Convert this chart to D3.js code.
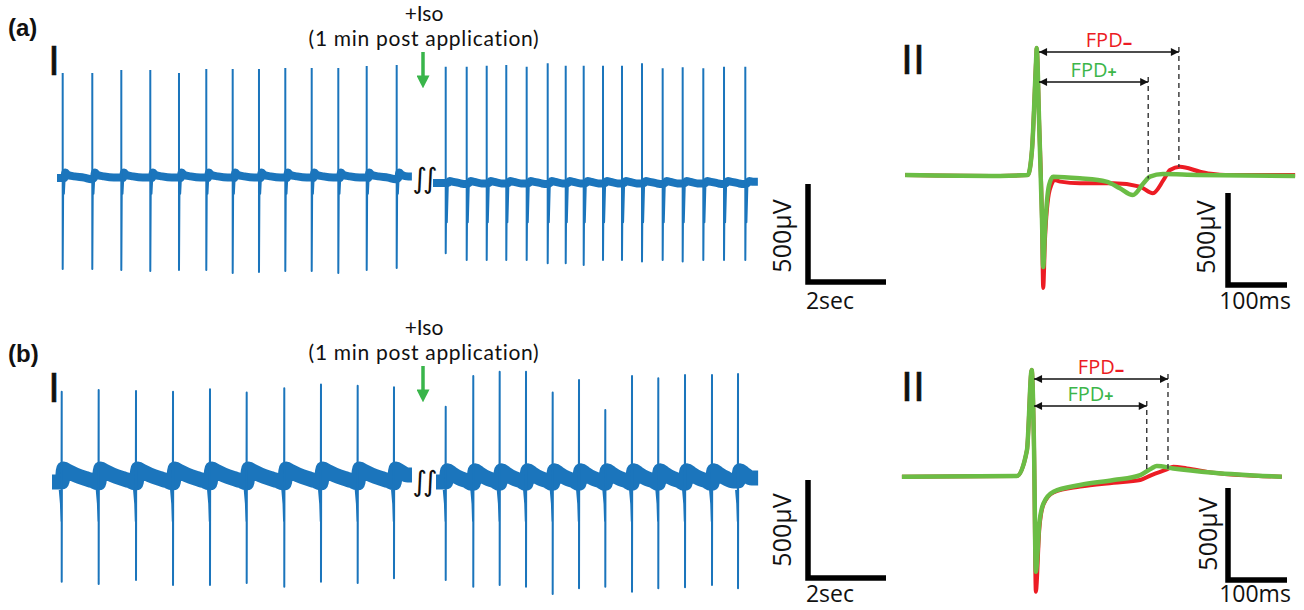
<!DOCTYPE html>
<meta charset="utf-8">
<style>
body { margin: 0; background: #fff; }
text { font-family: "Open Sans", sans-serif; fill: #111; }
</style>
<body>
<script src="https://d3js.org/d3.v7.min.js"></script>
<script>

// ---------- data ----------
// panel I: beat times (s) and spike peaks / troughs (µV) for each recording segment
var beatsA1 = [0.146, 0.905, 1.649, 2.392, 3.128, 3.828, 4.505, 5.179, 5.854, 6.531, 7.213, 7.941, 8.710];
var topsA1  = [536, 536, 551, 551, 536, 556, 556, 556, 561, 561, 561, 571, 577];
var botsA1  = [-464, -464, -469, -474, -469, -469, -485, -480, -474, -474, -485, -469, -459];
var beatsA2 = [0.326, 0.864, 1.377, 1.879, 2.402, 2.941, 3.403, 3.864, 4.359, 4.846, 5.359, 5.889, 6.402, 6.931, 7.462, 8.008];
var topsA2  = [593, 593, 598, 602, 593, 611, 598, 598, 598, 598, 611, 585, 590, 585, 593, 593];
var botsA2  = [-359, -393, -393, -393, -393, -410, -410, -418, -393, -393, -400, -393, -400, -393, -393, -393];
var beatsB1 = [0.249, 1.197, 2.154, 3.103, 4.051, 4.992, 5.956, 6.897, 7.838, 8.769];
var topsB1  = [461, 469, 464, 461, 473, 456, 478, 498, 491, 483];
var botsB1  = [-509, -520, -500, -526, -526, -515, -534, -509, -515, -491];
var beatsB2 = [0.249, 0.956, 1.633, 2.308, 2.992, 3.667, 4.341, 5.026, 5.700, 6.385, 7.077, 7.744];
var topsB2  = [384, 541, 563, 563, 456, 520, 367, 541, 529, 546, 546, 551];
var botsB2  = [-500, -534, -526, -534, -571, -542, -534, -560, -542, -537, -526, -542];
var durA = [9.10, 8.33];
var durB = [9.23, 8.26];

// baseline after each beat: [s after spike, µV]
var restA1 = [[0.04, 0], [0.07, 28], [0.13, 16], [0.3, 8], [0.55, 2], [0.74, -6]];
var restA2 = [[0.06, 0], [0.1, 10], [0.2, 6], [0.38, -2], [0.52, -5]];
var restB1 = [[0.02, 15], [0.05, 66], [0.15, 55], [0.35, 36], [0.6, 18], [0.8, 6], [0.92, -4]];
var restB2 = [[0.02, 15], [0.05, 58], [0.15, 44], [0.35, 20], [0.55, 5], [0.66, -6]];
// thin deflections next to each spike
var dipA1 = [[0.012, -30], [0.03, -80], [0.05, 0]];
var dipA2 = [[0.012, -60], [0.028, -200], [0.055, 0]];
var hookB = [[-0.05, -40], [-0.02, -110], [-0.006, -200]];
var backB = [[0.004, -40]];

// panel II: averaged field potential, [ms from spike, µV]
var greenA = [[-223, 0], [-62, -5], [-15, 0], [-8, 136], [-1, 625], [0, 690], [4, 299], [9, -245], [11, -500], [14, -299],
  [21, -54], [28, -9], [73, -18], [118, -36], [141, -72], [163, -109], [181, -45], [192, -9], [214, 5], [271, 0], [438, -5]];
var redA = [[-223, 0], [-62, -5], [-15, 0], [-8, 136], [-1, 625], [0, 690], [4, 299], [9, -245], [11, -614], [14, -353],
  [22, -82], [31, -27], [40, -36], [73, -45], [130, -45], [175, -63], [197, -99], [215, -27], [226, 27], [243, 45],
  [277, 18], [299, 5], [320, 0], [438, 0]];
var greenB = [[-220, 0], [-25, 4], [-8, 145], [0, 580], [4, 145], [7, -516], [13, -253], [20, -145], [37, -82], [82, -45],
  [139, -18], [184, 9], [203, 45], [212, 58], [240, 45], [308, 22], [424, 0]];
var redB = [[-220, 0], [-25, 4], [-8, 145], [0, 580], [4, 145], [7, -625], [13, -280], [20, -150], [37, -85], [82, -54],
  [139, -33], [184, -18], [203, 9], [229, 40], [240, 54], [263, 45], [308, 22], [424, 0]];
// field potential durations [FPD+, FPD-] in ms
var fpdA = [189, 241];
var fpdB = [195, 231];

// ---------- drawing ----------
var width = 1304, height = 610;
var blue = "#1b75bc", green = "#6bbd45", red = "#ec1c24", arrowGreen = "#39b54a", fpdGreen = "#3cb64a";

var svg = d3.select("body").append("svg")
    .attr("width", width)
    .attr("height", height);

var defs = svg.append("defs");
defs.append("marker").attr("id", "head")
    .attr("viewBox", "0 0 10 10").attr("refX", 10).attr("refY", 5)
    .attr("markerWidth", 11).attr("markerHeight", 8)
    .attr("markerUnits", "userSpaceOnUse").attr("orient", "auto-start-reverse")
  .append("path").attr("d", "M0,0L10,5L0,10Z").attr("fill", "#111");
defs.append("marker").attr("id", "ghead")
    .attr("viewBox", "0 0 10 10").attr("refX", 2).attr("refY", 5)
    .attr("markerWidth", 13).attr("markerHeight", 13)
    .attr("markerUnits", "userSpaceOnUse").attr("orient", "auto")
  .append("path").attr("d", "M0,0L10,5L0,10Z").attr("fill", arrowGreen);

var pxPerSec = 39, pxPerUV = 0.196;      // panel I: 2sec = 78px, 500µV = 98px
var pxPerMs = 0.59, pxPerUV2 = 0.184;    // panel II: 100ms = 59px, 500µV = 92px

function segment(x0, base, beats, tops, bots, dur, rest, pre, post, bandW) {
  var x = d3.scaleLinear().domain([0, 1]).range([x0, x0 + pxPerSec]);
  var y = d3.scaleLinear().domain([0, 1]).range([base, base - pxPerUV]);
  var line = d3.line().x(function(d) { return x(d[0]); }).y(function(d) { return y(d[1]); });

  var band = [[0, 0]];
  beats.forEach(function(t, i) {
    var next = i < beats.length - 1 ? beats[i + 1] : dur;
    band.push([t, band[band.length - 1][1]]);
    rest.forEach(function(r) { if (t + r[0] < next - 0.01) band.push([t + r[0], r[1]]); });
  });
  band.push([dur, band[band.length - 1][1]]);

  svg.append("path").attr("d", line.curve(d3.curveMonotoneX)(band))
      .attr("fill", "none").attr("stroke", blue)
      .attr("stroke-width", bandW).attr("stroke-linejoin", "round");
  line.curve(d3.curveLinear);

  svg.append("g").selectAll("path")
    .data(beats)
    .enter().append("path")
      .attr("d", function(t, i) {
        var pts = pre.map(function(p) { return [t + p[0], p[1]]; })
          .concat([[t, tops[i]], [t, bots[i]]])
          .concat(post.map(function(p) { return [t + p[0], p[1]]; }));
        return line(pts);
      })
      .attr("fill", "none").attr("stroke", blue).attr("stroke-width", 2)
      .attr("stroke-linejoin", "round");
  return x;
}

function scaleBar(cx, cy, lenX, lenY, labX, labY, sizeLab, sizeLabX, textX, textY) {
  svg.append("path")
      .attr("d", "M" + cx + "," + (cy - lenY) + "V" + cy + "H" + (cx + lenX))
      .attr("fill", "none").attr("stroke", "#000").attr("stroke-width", 5.5);
  svg.append("text").attr("transform", "translate(" + labX + "," + labY + ") rotate(-90)")
      .attr("text-anchor", "middle").attr("dy", "0.36em")
      .style("font-size", "25px").text(sizeLab);
  svg.append("text").attr("x", textX).attr("y", textY)
      .attr("text-anchor", "middle").style("font-size", "23px").text(sizeLabX);
}

function isoNote(y0) {
  svg.append("text").attr("x", 424).attr("y", y0).attr("text-anchor", "middle")
      .style("font-family", "Lato").style("font-size", "21px").text("+Iso");
  svg.append("text").attr("x", 424).attr("y", y0 + 25).attr("text-anchor", "middle")
      .style("font-family", "Lato").style("font-size", "21px").style("letter-spacing", "0.7px")
      .text("(1 min post application)");
  svg.append("line").attr("x1", 423).attr("x2", 423).attr("y1", y0 + 31).attr("y2", y0 + 57)
      .attr("stroke", arrowGreen).attr("stroke-width", 3.5).attr("marker-end", "url(#ghead)");
}

function breakMark(y0) {
  svg.append("text").attr("x", 423).attr("y", y0).attr("text-anchor", "middle").attr("dy", "0.35em")
      .style("font-family", "DejaVu Sans").style("font-size", "28px").style("letter-spacing", "-4px")
      .text("\u222B\u222B");
}

function panelII(spikeX, base, g, r, fpd, yMinus, yPlus) {
  var x = d3.scaleLinear().domain([0, 100]).range([spikeX, spikeX + 100 * pxPerMs]);
  var y = d3.scaleLinear().domain([0, 500]).range([base, base - 500 * pxPerUV2]);
  var line = d3.line().x(function(d) { return x(d[0]); }).y(function(d) { return y(d[1]); })
      .curve(d3.curveMonotoneX);
  svg.append("path").attr("d", line(r)).attr("fill", "none").attr("stroke", red)
      .attr("stroke-width", 4).attr("stroke-linejoin", "round");
  svg.append("path").attr("d", line(g)).attr("fill", "none").attr("stroke", green)
      .attr("stroke-width", 4.5).attr("stroke-linejoin", "round");

  function valueAt(data, t) {
    var i = d3.bisector(function(d) { return d[0]; }).left(data, t);
    var a = data[i - 1], b = data[i];
    return a[1] + (b[1] - a[1]) * (t - a[0]) / (b[0] - a[0]);
  }
  var items = [
    {t: fpd[1], yy: yMinus, data: r, col: red, sign: "\u2013", lab: "FPD"},
    {t: fpd[0], yy: yPlus, data: g, col: fpdGreen, sign: "+", lab: "FPD"}
  ];
  items.forEach(function(it) {
    svg.append("line").attr("x1", x(it.t)).attr("x2", x(it.t))
        .attr("y1", it.yy - 5).attr("y2", y(valueAt(it.data, it.t)))
        .attr("stroke", "#333").attr("stroke-width", 1.4).attr("stroke-dasharray", "5,4");
    svg.append("line").attr("x1", x(4)).attr("x2", x(it.t)).attr("y1", it.yy).attr("y2", it.yy)
        .attr("stroke", "#111").attr("stroke-width", 1.5)
        .attr("marker-start", "url(#head)").attr("marker-end", "url(#head)");
    var tx = svg.append("text").attr("x", (x(4) + x(it.t)) / 2).attr("y", it.yy - 5)
        .attr("text-anchor", "middle").style("font-size", "20px").style("fill", it.col);
    tx.append("tspan").text(it.lab);
    tx.append("tspan").attr("dy", it.sign === "+" ? 1 : 2)
        .style("font-size", it.sign === "+" ? "16px" : "19px").style("font-weight", "bold").text(it.sign);
  });
  return x;
}

// row labels
[["(a)", 36], ["(b)", 362]].forEach(function(d) {
  svg.append("text").attr("x", 8).attr("y", d[1])
      .style("font-family", "Liberation Sans").style("font-weight", "bold").style("font-size", "24px").text(d[0]);
});
[["I", 48, 75], ["I", 48, 402], ["II", 901, 74], ["II", 901, 401]].forEach(function(d) {
  svg.append("text").attr("x", d[1]).attr("y", d[2])
      .style("font-family", "Liberation Sans").style("font-size", "43px")
      .style("stroke", "#111").style("stroke-width", 0.5).text(d[0]);
});

// row (a)
segment(57, 178, beatsA1, topsA1, botsA1, durA[0], restA1, [], dipA1, 8);
segment(433, 183, beatsA2, topsA2, botsA2, durA[1], restA2, [], dipA2, 8);
isoNote(21);
breakMark(178);
scaleBar(808, 282, 2 * pxPerSec, 500 * pxPerUV, 782, 236, "500\u00B5V", "2sec", 830, 309);
panelII(1036.7, 175, greenA, redA, fpdA, 52, 82);
scaleBar(1228, 285, 100 * pxPerMs, 500 * pxPerUV2, 1206, 237, "500\u00B5V", "100ms", 1255, 309);

// row (b)
segment(52, 482, beatsB1, topsB1, botsB1, durB[0], restB1, hookB, backB, 15);
segment(436, 482, beatsB2, topsB2, botsB2, durB[1], restB2, hookB, backB, 15);
isoNote(335);
breakMark(481);
scaleBar(808, 578, 2 * pxPerSec, 500 * pxPerUV, 782, 530, "500\u00B5V", "2sec", 830, 602);
panelII(1031.7, 476.7, greenB, redB, fpdB, 379, 406);
scaleBar(1228, 580, 100 * pxPerMs, 500 * pxPerUV2, 1208, 534, "500\u00B5V", "100ms", 1255, 602);

</script>
</body>
